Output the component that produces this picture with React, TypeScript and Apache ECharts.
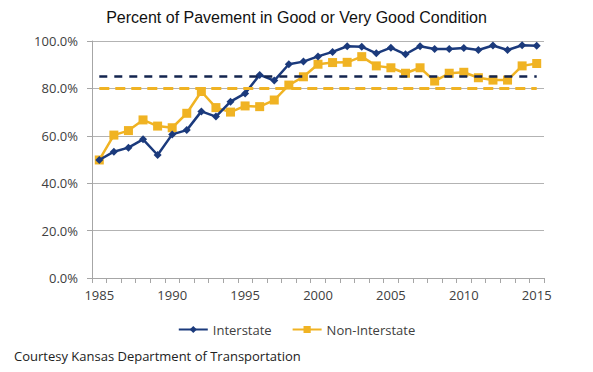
import React, { useEffect, useRef } from "react";
import * as echarts from "echarts";

const years = [
  "1985","1986","1987","1988","1989","1990","1991","1992","1993","1994",
  "1995","1996","1997","1998","1999","2000","2001","2002","2003","2004",
  "2005","2006","2007","2008","2009","2010","2011","2012","2013","2014","2015",
];
const interstate = [
  49.8, 53.3, 55.0, 58.5, 51.9, 60.6, 62.4, 70.3, 68.1, 74.4,
  77.9, 85.7, 83.3, 90.2, 91.3, 93.5, 95.4, 97.8, 97.6, 94.8,
  97.2, 94.4, 97.8, 96.6, 96.6, 97.0, 96.2, 98.1, 96.2, 98.2, 98.0,
];
const nonInterstate = [
  49.8, 60.3, 62.2, 66.7, 64.1, 63.4, 69.5, 78.7, 71.9, 70.0,
  72.6, 72.3, 75.1, 81.4, 84.9, 90.2, 90.9, 91.0, 93.4, 89.5,
  88.7, 86.4, 88.7, 83.1, 86.4, 86.8, 84.5, 83.5, 83.5, 89.5, 90.5,
];
const interstateTarget = 85;
const nonInterstateTarget = 80;
const yTicks = [0, 20, 40, 60, 80, 100];

const NAVY = "#1b3a7c";
const NAVY_DASH = "#13244f";
const GOLD = "#f0b323";

export default function App() {
  const ref = useRef<HTMLDivElement>(null);
  useEffect(() => {
    document.body.style.margin = "0";
    if (!ref.current) return;
    const chart = echarts.init(ref.current, undefined, { renderer: "svg" });
    chart.setOption({
      animation: false,
      backgroundColor: "#ffffff",
      title: {
        text: "Percent of Pavement in Good or Very Good Condition",
        left: "center",
        top: 4,
        textStyle: {
          fontFamily: "Liberation Sans",
          fontSize: 16,
          fontWeight: "normal",
          color: "#111111",
        },
      },
      legend: {
        data: ["Interstate", "Non-Interstate"],
        left: "center",
        top: 318,
        itemWidth: 29,
        itemHeight: 9,
        itemGap: 20,
        textStyle: {
          fontFamily: "Open Sans",
          fontSize: 13,
          color: "#404040",
        },
      },
      graphic: [
        {
          type: "text",
          left: 14,
          top: 349,
          style: {
            text: "Courtesy Kansas Department of Transportation",
            fontFamily: "Open Sans",
            fontSize: 13,
            fill: "#222222",
          },
        },
      ],
      grid: { left: 92, right: 49, top: 41, bottom: 94 },
      xAxis: {
        type: "category",
        data: years,
        boundaryGap: true,
        axisLine: { lineStyle: { color: "#a6a6a6" } },
        axisTick: { show: true, interval: 0, length: 5, lineStyle: { color: "#a6a6a6" } },
        axisLabel: {
          interval: 4,
          margin: 10,
          fontFamily: "Open Sans",
          fontSize: 13,
          color: "#404040",
        },
      },
      yAxis: {
        type: "value",
        min: yTicks[0],
        max: yTicks[yTicks.length - 1],
        interval: 20,
        axisLine: { show: true, lineStyle: { color: "#a6a6a6" } },
        axisTick: { show: true, length: 5, lineStyle: { color: "#a6a6a6" } },
        splitLine: { lineStyle: { color: "#b3b3b3" } },
        axisLabel: {
          margin: 14,
          fontFamily: "Open Sans",
          fontSize: 13,
          color: "#404040",
          formatter: (v: number) => v.toFixed(1) + "%",
        },
      },
      series: [
        {
          name: "Non-Interstate",
          type: "line",
          data: nonInterstate,
          symbol: "rect",
          symbolSize: 9,
          lineStyle: { color: GOLD, width: 2.5 },
          itemStyle: { color: GOLD },
          z: 2,
        },
        {
          name: "Interstate",
          type: "line",
          data: interstate,
          symbol: "diamond",
          symbolSize: 8,
          lineStyle: { color: NAVY, width: 2.5 },
          itemStyle: { color: NAVY },
          z: 3,
        },
        {
          name: "Non-Interstate Target",
          type: "line",
          data: years.map(() => nonInterstateTarget),
          symbol: "none",
          lineStyle: { color: GOLD, width: 3, type: [10, 6] },
          z: 4,
        },
        {
          name: "Interstate Target",
          type: "line",
          data: years.map(() => interstateTarget),
          symbol: "none",
          lineStyle: { color: NAVY_DASH, width: 2.5, type: [8, 7] },
          z: 5,
        },
      ],
    });
    return () => chart.dispose();
  }, []);
  return <div ref={ref} style={{ width: 593, height: 372 }} />;
}
